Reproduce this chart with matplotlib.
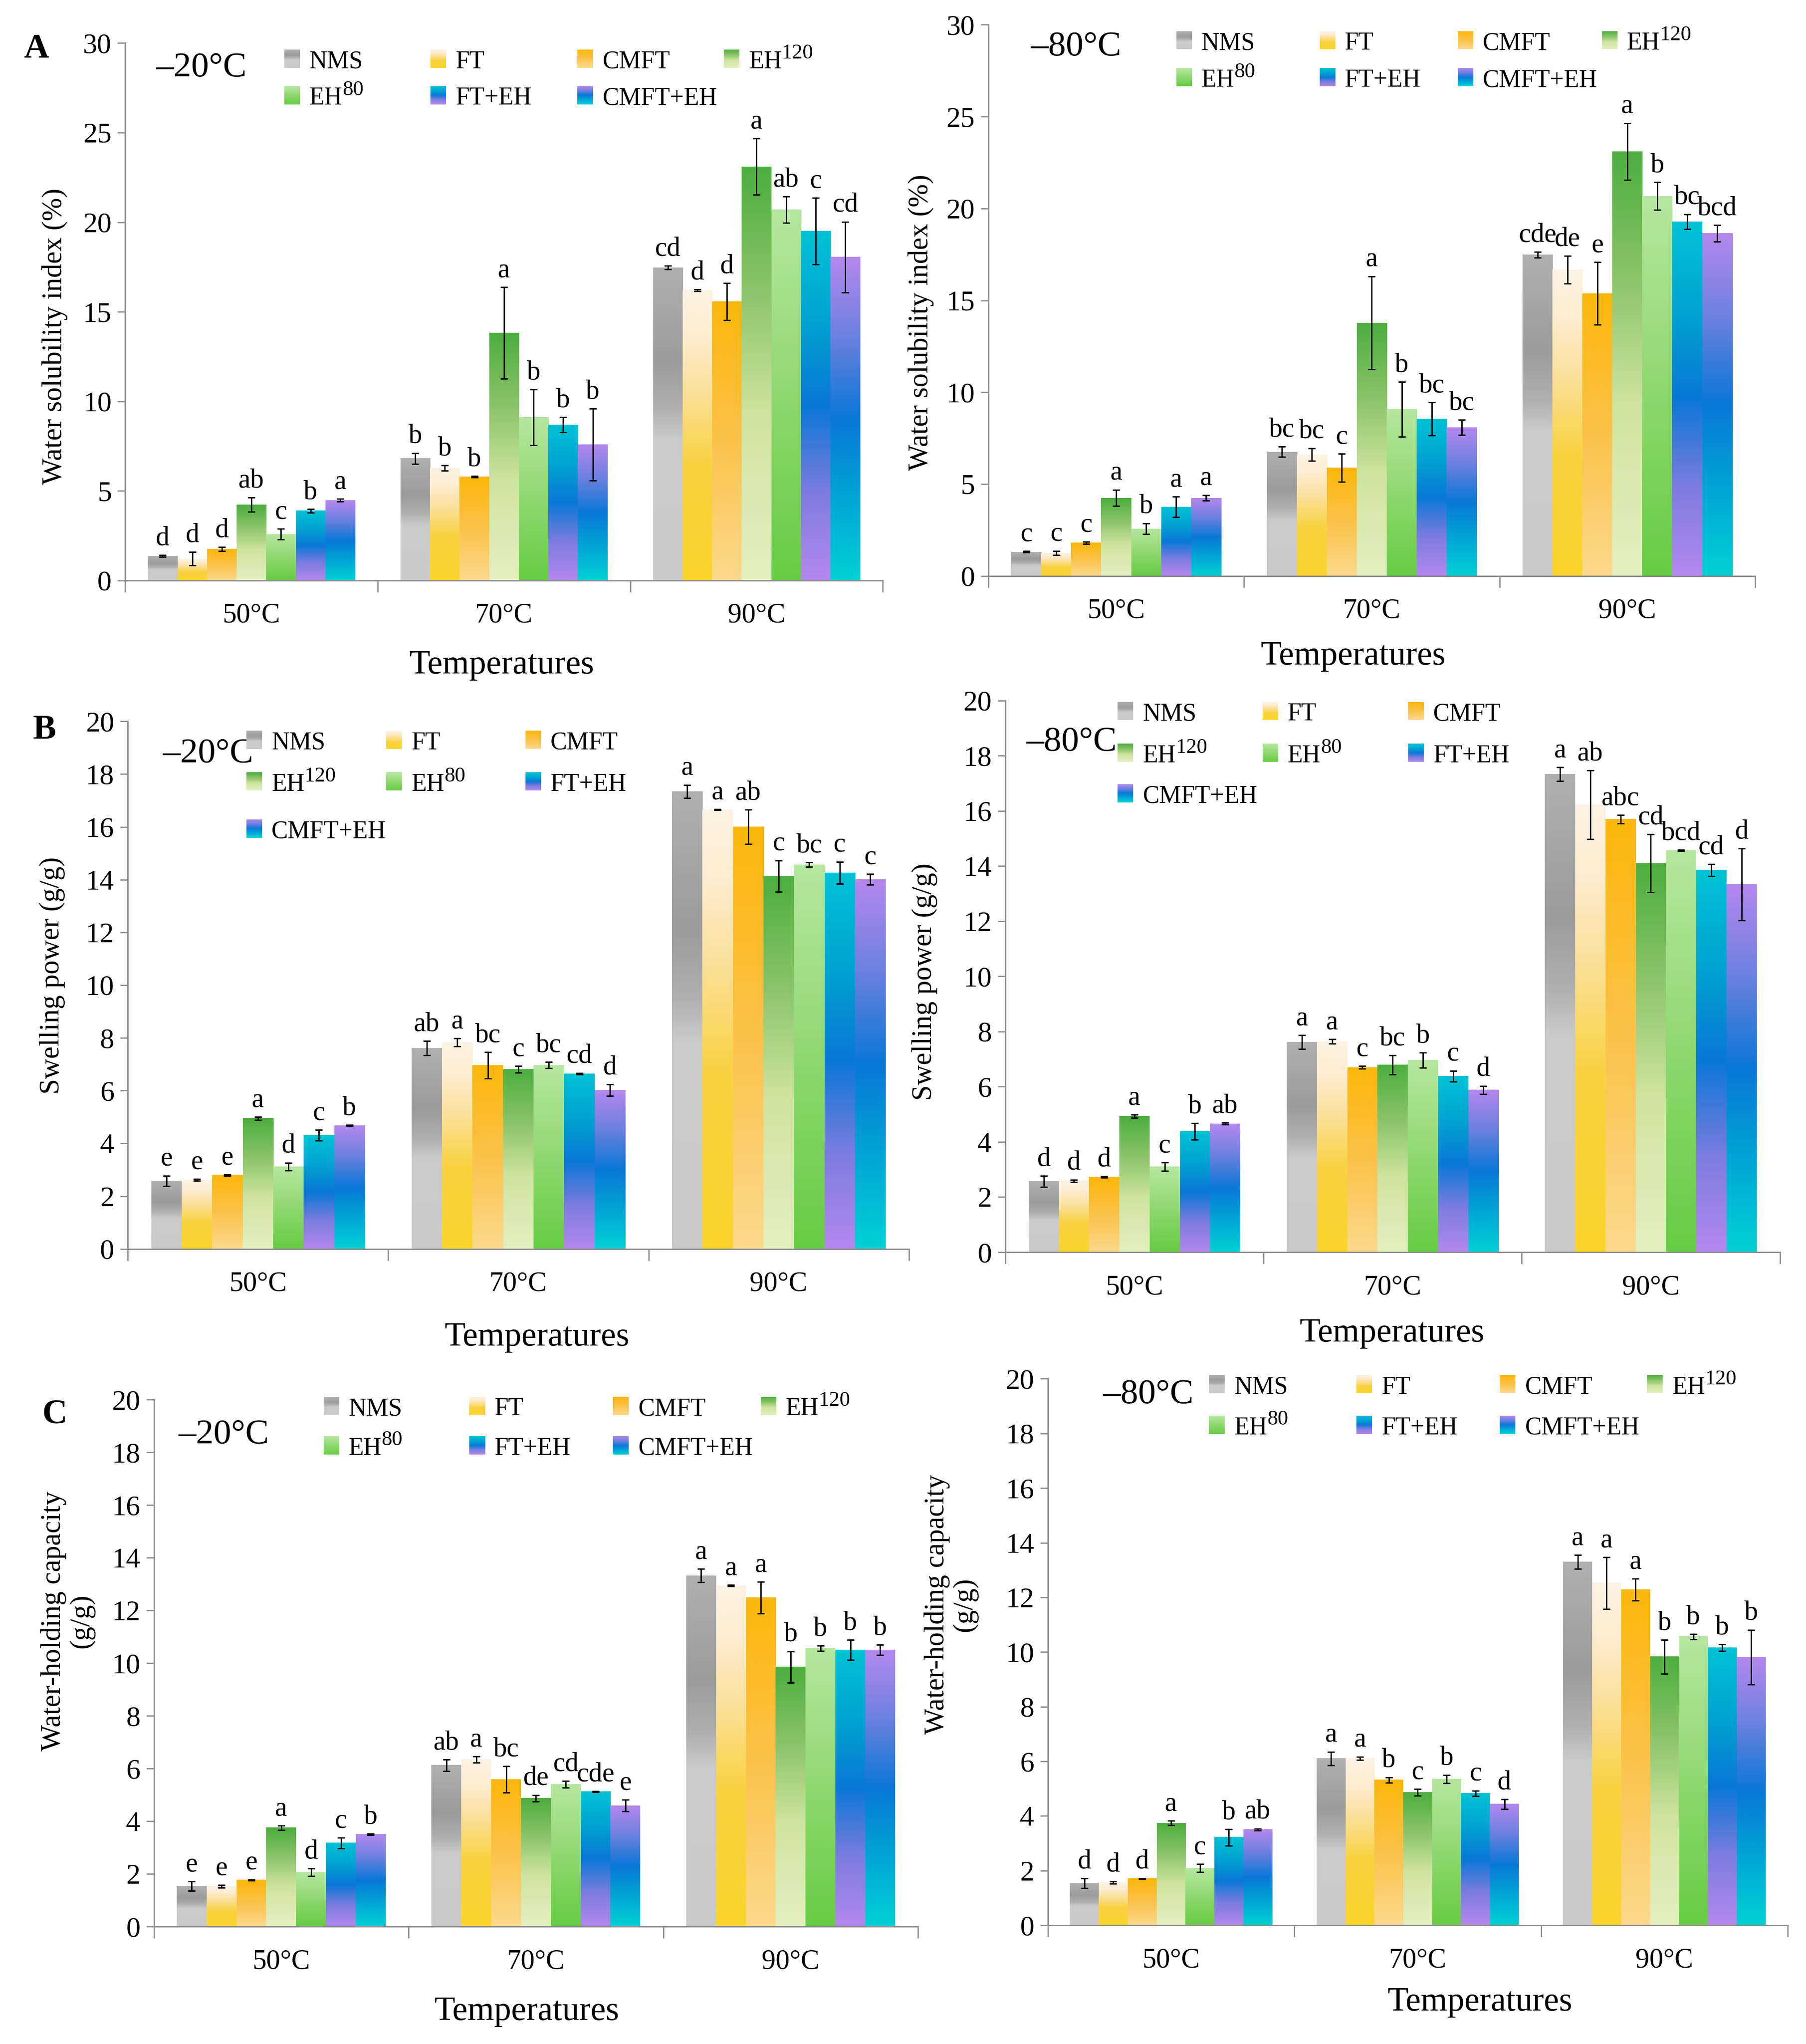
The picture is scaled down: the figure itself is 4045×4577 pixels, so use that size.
import numpy as np
import matplotlib
matplotlib.use("Agg")
import matplotlib.pyplot as plt
from matplotlib.colors import LinearSegmentedColormap
from matplotlib.patches import Rectangle

plt.rcParams['font.family'] = ['Liberation Serif', 'DejaVu Serif']

temps = ['50°C', '70°C', '90°C']
series = ['NMS', 'FT', 'CMFT', 'EH', 'EH', 'FT+EH', 'CMFT+EH']
series_sup = ['', '', '', '120', '80', '', '']

# values per temperature (rows) and treatment (columns)
wsi_20_mean = [[1.36, 1.22, 1.75, 4.23, 2.58, 3.89, 4.48],
               [6.81, 6.28, 5.79, 13.82, 9.10, 8.69, 7.59],
               [17.47, 16.20, 15.57, 23.10, 20.70, 19.50, 18.05]]
wsi_20_err = [[0.05, 0.37, 0.12, 0.40, 0.30, 0.10, 0.08],
              [0.30, 0.15, 0.03, 2.55, 1.56, 0.43, 2.00],
              [0.10, 0.05, 1.03, 1.57, 0.74, 1.85, 1.97]]
wsi_20_sig = [['d', 'd', 'd', 'ab', 'c', 'b', 'a'],
              ['b', 'b', 'b', 'a', 'b', 'b', 'b'],
              ['cd', 'd', 'd', 'a', 'ab', 'c', 'cd']]

wsi_80_mean = [[1.31, 1.24, 1.80, 4.25, 2.57, 3.75, 4.25],
               [6.75, 6.60, 5.89, 13.78, 9.07, 8.55, 8.08],
               [17.48, 16.67, 15.37, 23.10, 20.67, 19.29, 18.65]]
wsi_80_err = [[0.03, 0.12, 0.05, 0.44, 0.30, 0.56, 0.15],
              [0.28, 0.35, 0.76, 2.53, 1.50, 0.90, 0.42],
              [0.15, 0.75, 1.70, 1.55, 0.75, 0.40, 0.45]]
wsi_80_sig = [['c', 'c', 'c', 'a', 'b', 'a', 'a'],
              ['bc', 'bc', 'c', 'a', 'b', 'bc', 'bc'],
              ['cde', 'de', 'e', 'a', 'b', 'bc', 'bcd']]

sp_20_mean = [[2.58, 2.62, 2.80, 4.95, 3.12, 4.31, 4.68],
              [7.61, 7.83, 6.96, 6.81, 6.97, 6.64, 6.02],
              [17.34, 16.65, 16.00, 14.13, 14.57, 14.26, 14.01]]
sp_20_err = [[0.20, 0.03, 0.02, 0.06, 0.15, 0.20, 0.02],
             [0.27, 0.15, 0.50, 0.12, 0.12, 0.03, 0.22],
             [0.25, 0.02, 0.65, 0.60, 0.08, 0.42, 0.20]]
sp_20_sig = [['e', 'e', 'e', 'a', 'd', 'c', 'b'],
             ['ab', 'a', 'bc', 'c', 'bc', 'cd', 'd'],
             ['a', 'a', 'ab', 'c', 'bc', 'c', 'c']]

sp_80_mean = [[2.57, 2.59, 2.73, 4.93, 3.10, 4.38, 4.66],
              [7.62, 7.64, 6.70, 6.79, 6.96, 6.38, 5.88],
              [17.33, 16.22, 15.69, 14.10, 14.56, 13.85, 13.33]]
sp_80_err = [[0.20, 0.04, 0.02, 0.06, 0.15, 0.30, 0.03],
             [0.25, 0.08, 0.05, 0.35, 0.28, 0.20, 0.15],
             [0.25, 1.25, 0.15, 1.05, 0.02, 0.22, 1.30]]
sp_80_sig = [['d', 'd', 'd', 'a', 'c', 'b', 'ab'],
             ['a', 'a', 'c', 'bc', 'b', 'c', 'd'],
             ['a', 'ab', 'abc', 'cd', 'bcd', 'cd', 'd']]

whc_20_mean = [[1.53, 1.53, 1.77, 3.75, 2.06, 3.17, 3.50],
               [6.12, 6.34, 5.58, 4.87, 5.40, 5.12, 4.59],
               [13.32, 12.94, 12.49, 9.85, 10.56, 10.50, 10.50]]
whc_20_err = [[0.18, 0.05, 0.02, 0.08, 0.15, 0.20, 0.02],
              [0.22, 0.12, 0.50, 0.12, 0.12, 0.02, 0.22],
              [0.25, 0.03, 0.60, 0.60, 0.10, 0.38, 0.20]]
whc_20_sig = [['e', 'e', 'e', 'a', 'd', 'c', 'b'],
              ['ab', 'a', 'bc', 'de', 'cd', 'cde', 'e'],
              ['a', 'a', 'a', 'b', 'b', 'b', 'b']]

whc_80_mean = [[1.54, 1.56, 1.70, 3.74, 2.09, 3.22, 3.50],
               [6.10, 6.11, 5.32, 4.86, 5.35, 4.83, 4.43],
               [13.30, 12.52, 12.28, 9.83, 10.56, 10.16, 9.81]]
whc_80_err = [[0.18, 0.04, 0.02, 0.08, 0.15, 0.30, 0.04],
              [0.25, 0.06, 0.10, 0.12, 0.15, 0.10, 0.18],
              [0.25, 0.95, 0.40, 0.62, 0.10, 0.12, 1.00]]
whc_80_sig = [['d', 'd', 'd', 'a', 'c', 'b', 'ab'],
              ['a', 'a', 'b', 'c', 'b', 'c', 'd'],
              ['a', 'a', 'a', 'b', 'b', 'b', 'b']]

# vertical gradients, bottom -> top
grads = [
    [(0, '#c9c9c9'), (0.45, '#cbcbcb'), (0.55, '#b0b0b0'), (0.7, '#9b9b9b'), (1, '#b0b0b0')],
    [(0, '#fbd52c'), (0.4, '#f8d240'), (0.65, '#fbe09a'), (0.85, '#fdedd2'), (1, '#fdf2e4')],
    [(0, '#fcd98c'), (0.5, '#fbc24a'), (1, '#fbb70a')],
    [(0, '#e4efc0'), (0.4, '#cfe4a0'), (0.7, '#8cc46a'), (1, '#4cae3e')],
    [(0, '#66cc44'), (0.5, '#8fd870'), (1, '#b6e7a0')],
    [(0, '#b488ec'), (0.25, '#7c7ce0'), (0.5, '#0a78d6'), (0.75, '#00a4d2'), (1, '#00c2d4')],
    [(0, '#00d0d4'), (0.25, '#00a6d6'), (0.5, '#0a78d6'), (0.75, '#6a80e0'), (1, '#b488ec')],
]
cmaps = [LinearSegmentedColormap.from_list('g%d' % i, g) for i, g in enumerate(grads)]
ramp = np.linspace(0, 1, 256).reshape(-1, 1)

W, H = 1385.0, 1567.0  # layout measured on the preview


def rect(x0, x1, ytop, ybot):
    return [x0 / W, 1 - ybot / H, (x1 - x0) / W, (ybot - ytop) / H]


panels = [
    dict(mean=wsi_20_mean, err=wsi_20_err, sig=wsi_20_sig, pos=rect(96, 677, 33, 445),
         ymax=30, step=5, ylabel='Water solubility index (%)', ylab=(-0.093, 0.454),
         xlab=(0.497, -0.158), tag='–20°C', tagxy=(0.041, 0.954), ncol=4,
         legx=[0.21, 0.403, 0.597, 0.79], legy=[0.971, 0.903]),
    dict(mean=wsi_80_mean, err=wsi_80_err, sig=wsi_80_sig, pos=rect(758, 1346, 19, 441.5),
         ymax=30, step=5, ylabel='Water solubility index (%)', ylab=(-0.088, 0.46),
         xlab=(0.476, -0.146), tag='–80°C', tagxy=(0.055, 0.96), ncol=4,
         legx=[0.245, 0.432, 0.612, 0.80], legy=[0.972, 0.905]),
    dict(mean=sp_20_mean, err=sp_20_err, sig=sp_20_sig, pos=rect(98, 697, 553, 957.5),
         ymax=20, step=2, ylabel='Swelling power (g/g)', ylab=(-0.097, 0.518),
         xlab=(0.524, -0.167), tag='–20°C', tagxy=(0.045, 0.938), ncol=3,
         legx=[0.152, 0.331, 0.509], legy=[0.965, 0.886, 0.797]),
    dict(mean=sp_80_mean, err=sp_80_err, sig=sp_80_sig, pos=rect(771, 1365, 537, 960),
         ymax=20, step=2, ylabel='Swelling power (g/g)', ylab=(-0.104, 0.49),
         xlab=(0.499, -0.147), tag='–80°C', tagxy=(0.027, 0.924), ncol=3,
         legx=[0.145, 0.332, 0.52], legy=[0.981, 0.905, 0.832]),
    dict(mean=whc_20_mean, err=whc_20_err, sig=whc_20_sig, pos=rect(118, 704, 1073, 1477),
         ymax=20, step=2, ylabel='Water-holding capacity\n(g/g)', ylab=(-0.113, 0.58),
         xlab=(0.488, -0.161), tag='–20°C', tagxy=(0.032, 0.933), ncol=4,
         legx=[0.222, 0.413, 0.601, 0.794], legy=[0.988, 0.913]),
    dict(mean=whc_80_mean, err=whc_80_err, sig=whc_80_sig, pos=rect(803.5, 1371, 1057, 1476),
         ymax=20, step=2, ylabel='Water-holding capacity\n(g/g)', ylab=(-0.131, 0.587),
         xlab=(0.584, -0.141), tag='–80°C', tagxy=(0.075, 0.971), ncol=4,
         legx=[0.218, 0.417, 0.611, 0.81], legy=[0.99, 0.916]),
]

axis_grey = '#8a8a8a'
fig = plt.figure(figsize=(40.45, 45.77), dpi=100)

for p in panels:
    ax = fig.add_axes(p['pos'])
    mean = np.array(p['mean'])
    err = np.array(p['err'])
    bw = 0.82 / 7
    x = np.arange(len(temps))
    for i in range(7):
        xs = x - 0.41 + bw * (i + 0.5)
        bars = ax.bar(xs, mean[:, i], width=bw, color='none', edgecolor='none', zorder=2)
        for b in bars:
            bx, by = b.get_x(), b.get_y()
            ax.imshow(ramp, cmap=cmaps[i], origin='lower', aspect='auto',
                      extent=[bx, bx + b.get_width(), by, by + b.get_height()],
                      interpolation='bilinear', zorder=1)
        ax.errorbar(xs, mean[:, i], yerr=err[:, i], fmt='none', ecolor='black',
                    elinewidth=2.2, capsize=6, capthick=2.2, zorder=4)
        for t in range(len(temps)):
            ax.annotate(p['sig'][t][i], (xs[t], mean[t, i] + err[t, i]),
                        xytext=(0, 7), textcoords='offset points',
                        ha='center', va='bottom', fontsize=44, zorder=5)

    ax.set_xlim(-0.5, len(temps) - 0.5)
    ax.set_ylim(0, p['ymax'])
    ax.set_yticks(np.arange(0, p['ymax'] + 1, p['step']))
    ax.set_xticks(np.arange(len(temps) + 1) - 0.5)
    ax.set_xticklabels([])
    ax.set_xticks(x, minor=True)
    ax.set_xticklabels(temps, minor=True)
    ax.tick_params(axis='x', which='major', length=19, width=2, color=axis_grey, direction='out')
    ax.tick_params(axis='x', which='minor', length=0, pad=36, labelsize=45)
    ax.tick_params(axis='y', length=12, width=2, color=axis_grey, pad=10, labelsize=46)
    for s in ['top', 'right']:
        ax.spines[s].set_visible(False)
    for s in ['left', 'bottom']:
        ax.spines[s].set_color(axis_grey)
        ax.spines[s].set_linewidth(2.2)

    ax.set_ylabel(p['ylabel'], fontsize=45, linespacing=1.1)
    ax.yaxis.set_label_coords(*p['ylab'])
    ax.yaxis.label.set_verticalalignment('center')
    ax.set_xlabel('Temperatures', fontsize=55)
    ax.xaxis.set_label_coords(*p['xlab'])
    ax.xaxis.label.set_verticalalignment('center')

    ax.text(p['tagxy'][0], p['tagxy'][1], p['tag'], transform=ax.transAxes,
            fontsize=57, va='center', ha='left')

    # legend drawn as gradient swatches in a regular grid
    sw_w = 12.0 / (p['pos'][2] * W)
    sw_h = 14.0 / (p['pos'][3] * H)
    for i, name in enumerate(series):
        cx = p['legx'][i % p['ncol']]
        cy = p['legy'][i // p['ncol']]
        nstrip = 20
        for k in range(nstrip):
            ax.add_patch(Rectangle((cx, cy - sw_h / 2 + sw_h * k / nstrip), sw_w, sw_h / nstrip,
                                   transform=ax.transAxes, facecolor=cmaps[i]((k + 0.5) / nstrip),
                                   edgecolor='none', clip_on=False, zorder=6))
        txt = ax.text(cx + sw_w * 1.6, cy - 0.006, name, transform=ax.transAxes, fontsize=40,
                      va='center', ha='left', zorder=6)
        if series_sup[i]:
            ax.annotate(series_sup[i], xy=(1.0, 0.45), xycoords=txt, fontsize=34,
                        ha='left', va='bottom', zorder=6)

fig.text(28 / W, 1 - 38 / H, 'A', fontsize=56, fontweight='bold', va='center', ha='center')
fig.text(34 / W, 1 - 560 / H, 'B', fontsize=56, fontweight='bold', va='center', ha='center')
fig.text(42 / W, 1 - 1085 / H, 'C', fontsize=56, fontweight='bold', va='center', ha='center')

fig.savefig('out.png', dpi=100, facecolor='white')
